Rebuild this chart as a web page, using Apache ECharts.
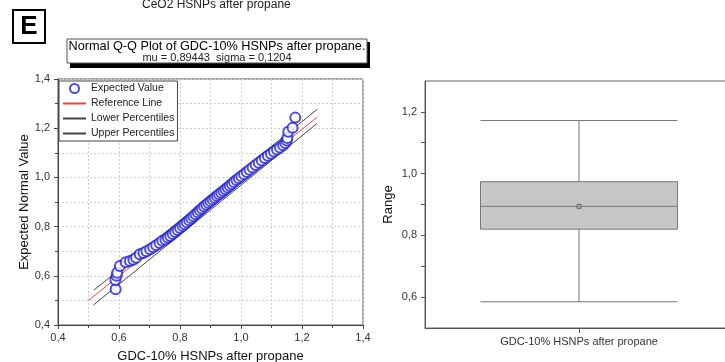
<!DOCTYPE html>
<html>
<head>
<meta charset="utf-8">
<script src="https://cdn.jsdelivr.net/npm/echarts@6/dist/echarts.min.js"></script>
<style>
  html, body { margin: 0; padding: 0; background: #fff; overflow: hidden; }
  #main { width: 725px; height: 362px; }
</style>
</head>
<body>
<div id="main"></div>
<script>
// sorted sample values (x) and expected normal values (y)
var qqValues = [0.589, 0.588, 0.592, 0.594, 0.603, 0.622, 0.636, 0.647, 0.656, 0.668,
  0.680, 0.690, 0.702, 0.712, 0.722, 0.733, 0.742, 0.752, 0.760, 0.768,
  0.776, 0.784, 0.792, 0.800, 0.808, 0.815, 0.822, 0.830, 0.837, 0.844,
  0.851, 0.858, 0.865, 0.872, 0.879, 0.886, 0.893, 0.900, 0.907, 0.914,
  0.921, 0.928, 0.935, 0.942, 0.949, 0.956, 0.963, 0.970, 0.977, 0.985,
  0.993, 1.001, 1.010, 1.019, 1.028, 1.038, 1.048, 1.058, 1.068, 1.078,
  1.088, 1.098, 1.108, 1.118, 1.128, 1.138, 1.145, 1.150, 1.152, 1.155,
  1.169, 1.178];
var qqExpected = [0.545, 0.583, 0.600, 0.612, 0.640, 0.655, 0.660, 0.665, 0.673, 0.688,
  0.693, 0.700, 0.708, 0.716, 0.724, 0.733, 0.742, 0.748, 0.756, 0.762,
  0.770, 0.778, 0.786, 0.794, 0.802, 0.810, 0.818, 0.826, 0.834, 0.842,
  0.850, 0.858, 0.866, 0.874, 0.882, 0.889, 0.896, 0.903, 0.910, 0.917,
  0.924, 0.931, 0.938, 0.945, 0.952, 0.959, 0.966, 0.973, 0.981, 0.989,
  0.997, 1.005, 1.013, 1.022, 1.031, 1.040, 1.050, 1.060, 1.069, 1.079,
  1.088, 1.096, 1.105, 1.113, 1.122, 1.131, 1.140, 1.150, 1.160, 1.186,
  1.202, 1.243];
var refLine = [[0.50, 0.50], [1.25, 1.245]];
var lowerLine = [[0.516, 0.481], [1.25, 1.22]];
var upperLine = [[0.518, 0.542], [1.25, 1.277]];

// box plot: min, Q1, median, Q3, max, and the mean
var boxCats = ['GDC-10% HSNPs after propane'];
var boxStats = [0.585, 0.82, 0.894, 0.974, 1.172];
var boxMean = 0.894;
var rangeTicks = [0.6, 0.7, 0.8, 0.9, 1.0, 1.1, 1.2];
var rangeLabels = [0.6, 0.8, 1.0, 1.2];

var font = "'Liberation Sans', Arial, sans-serif";
function comma(v) { return v.toFixed(1).replace('.', ','); }

var qqData = [];
for (var i = 0; i < qqValues.length; i++) qqData.push([qqValues[i], qqExpected[i]]);

var myChart = echarts.init(document.getElementById('main'));
var option = {
  animation: false,
  textStyle: { fontFamily: font },
  grid: [
    { left: 58, top: 79, width: 305, height: 246, show: true, borderColor: '#555', borderWidth: 1,
      backgroundColor: 'transparent', outerBoundsMode: 'none' },
    { left: 425, top: 81, width: 308, height: 247, show: true, borderColor: '#666', borderWidth: 1,
      backgroundColor: 'transparent', outerBoundsMode: 'none' }
  ],
  legend: {
    left: 59, top: 81, orient: 'vertical',
    data: [
      { name: 'Expected Value' },
      { name: 'Reference Line', itemStyle: { opacity: 0 } },
      { name: 'Lower Percentiles', itemStyle: { opacity: 0 } },
      { name: 'Upper Percentiles', itemStyle: { opacity: 0 } }
    ],
    itemWidth: 23, itemHeight: 9, itemGap: 4, padding: [2, 3],
    borderColor: '#444', borderWidth: 1, backgroundColor: '#fff',
    textStyle: { fontSize: 10.5, color: '#222', fontFamily: font }
  },
  graphic: [
    { type: 'text', left: 142, top: -1, style: { text: 'CeO2 HSNPs after propane', font: '12px ' + font, fill: '#222' } },
    { type: 'rect', shape: { x: 13, y: 10, width: 32, height: 33 }, style: { fill: '#fff', stroke: '#000', lineWidth: 2 } },
    { type: 'text', style: { text: 'E', x: 29, y: 27, align: 'center', verticalAlign: 'middle', font: 'bold 26px ' + font, fill: '#000' } },
    { type: 'rect', shape: { x: 70, y: 42, width: 300, height: 26 }, style: { fill: '#000' } },
    { type: 'rect', shape: { x: 67, y: 39, width: 300, height: 24 }, style: { fill: '#fff', stroke: '#555', lineWidth: 1 } },
    { type: 'text', style: { text: 'Normal Q-Q Plot of GDC-10% HSNPs after propane.', x: 217, y: 46, align: 'center', verticalAlign: 'middle', font: '12.7px ' + font, fill: '#000' } },
    { type: 'text', style: { text: 'mu = 0,89443  sigma = 0,1204', x: 217, y: 57.5, align: 'center', verticalAlign: 'middle', font: '11px ' + font, fill: '#222' } }
  ],
  xAxis: [
    {
      gridIndex: 0, type: 'value', min: 0.4, max: 1.4, interval: 0.2,
      name: 'GDC-10% HSNPs after propane', nameLocation: 'middle', nameGap: 25,
      nameTextStyle: { fontSize: 13, color: '#111' },
      axisLine: { lineStyle: { color: '#444' } },
      axisTick: { show: true, length: 4, lineStyle: { color: '#444' } },
      minorTick: { show: true, splitNumber: 2, length: 3, lineStyle: { color: '#444' } },
      axisLabel: { fontSize: 11, color: '#333', margin: 7, formatter: comma },
      splitLine: { show: true, lineStyle: { color: '#cfcfcf', type: [2, 2] } },
      minorSplitLine: { show: true, lineStyle: { color: '#cfcfcf', type: [2, 2] } }
    },
    {
      gridIndex: 1, type: 'category', data: boxCats, boundaryGap: true,
      axisLine: { lineStyle: { color: '#555' } },
      axisTick: { show: true, alignWithLabel: true, length: 5, lineStyle: { color: '#555' } },
      axisLabel: { fontSize: 11, color: '#333', margin: 8 },
      splitLine: { show: false }
    }
  ],
  yAxis: [
    {
      gridIndex: 0, type: 'value', min: 0.4, max: 1.4, interval: 0.2,
      name: 'Expected Normal Value', nameLocation: 'middle', nameGap: 16,
      nameTextStyle: { fontSize: 13, color: '#111' },
      axisLine: { show: true, lineStyle: { color: '#444' } },
      axisTick: { show: true, length: 4, lineStyle: { color: '#444' } },
      minorTick: { show: true, splitNumber: 2, length: 3, lineStyle: { color: '#444' } },
      axisLabel: { fontSize: 11, color: '#333', margin: 8, formatter: comma },
      splitLine: { show: true, lineStyle: { color: '#cfcfcf', type: [2, 2] } },
      minorSplitLine: { show: true, lineStyle: { color: '#cfcfcf', type: [2, 2] } }
    },
    {
      gridIndex: 1, type: 'value', min: 0.5, max: 1.3,
      name: 'Range', nameLocation: 'middle', nameGap: 30,
      nameTextStyle: { fontSize: 13, color: '#111' },
      axisLine: { show: true, lineStyle: { color: '#555' } },
      axisTick: { show: true, length: 4, customValues: rangeTicks, lineStyle: { color: '#555' } },
      axisLabel: { fontSize: 11, color: '#333', margin: 8, customValues: rangeLabels, formatter: comma },
      splitLine: { show: false }
    }
  ],
  series: [
    {
      name: 'Reference Line', type: 'line', xAxisIndex: 0, yAxisIndex: 0,
      data: refLine, symbol: 'none', z: 2,
      lineStyle: { color: '#e04848', width: 1 }, itemStyle: { color: '#e04848' }
    },
    {
      name: 'Lower Percentiles', type: 'line', xAxisIndex: 0, yAxisIndex: 0,
      data: lowerLine, symbol: 'none', z: 2,
      lineStyle: { color: '#444', width: 1 }, itemStyle: { color: '#444' }
    },
    {
      name: 'Upper Percentiles', type: 'line', xAxisIndex: 0, yAxisIndex: 0,
      data: upperLine, symbol: 'none', z: 2,
      lineStyle: { color: '#444', width: 1 }, itemStyle: { color: '#444' }
    },
    {
      name: 'Expected Value', type: 'scatter', xAxisIndex: 0, yAxisIndex: 0,
      data: qqData, symbol: 'emptyCircle', symbolSize: 10, z: 3,
      itemStyle: { color: '#2222cc', borderColor: '#2222cc', borderWidth: 1.8 }
    },
    {
      name: 'Box', type: 'boxplot', xAxisIndex: 1, yAxisIndex: 1,
      data: [boxStats], boxWidth: [197, 197],
      itemStyle: { color: '#c6c6c6', borderColor: '#777', borderWidth: 1 }
    },
    {
      name: 'Mean', type: 'scatter', xAxisIndex: 1, yAxisIndex: 1,
      data: [[0, boxMean]], symbol: 'rect', symbolSize: 4, z: 5,
      itemStyle: { color: '#aaa', borderColor: '#555', borderWidth: 1 }
    }
  ]
};
myChart.setOption(option);
</script>
</body>
</html>
